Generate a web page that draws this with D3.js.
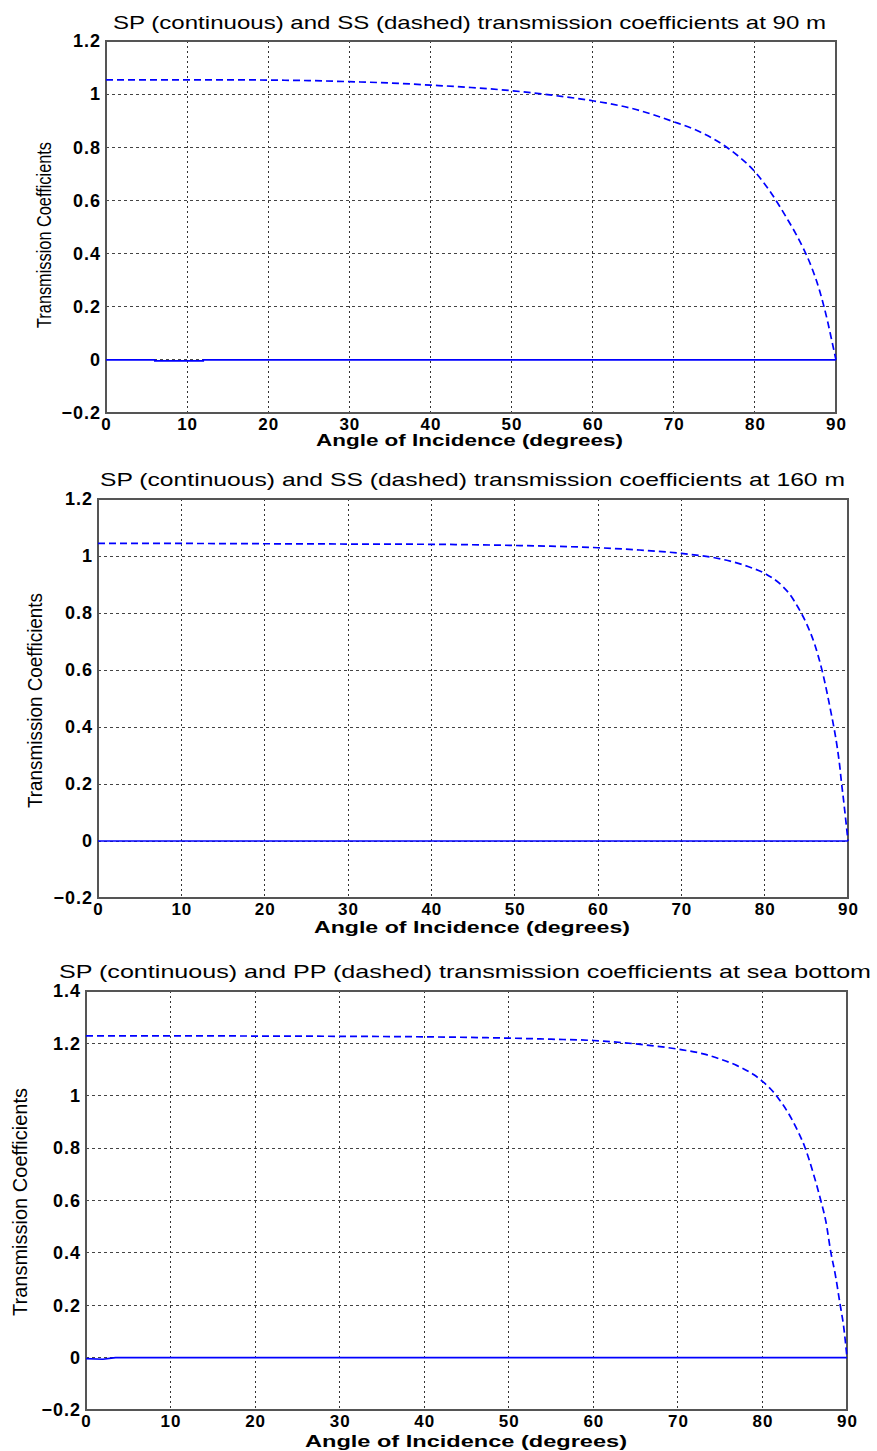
<!DOCTYPE html>
<html>
<head>
<meta charset="utf-8">
<script src="https://cdn.jsdelivr.net/npm/d3@7"></script>
<style>
  html, body { margin: 0; padding: 0; background: #fff; }
  svg { display: block; }
</style>
</head>
<body>
<svg id="chart" width="877" height="1451"></svg>
<script>
// ---------- DATA ----------
const titles = [
  "SP (continuous) and SS (dashed) transmission coefficients at 90 m",
  "SP (continuous) and SS (dashed) transmission coefficients at 160 m",
  "SP (continuous) and PP (dashed) transmission coefficients at sea bottom"
];
const xLabel = "Angle of Incidence (degrees)";
const yLabel = "Transmission Coefficients";
const xTicks = [0, 10, 20, 30, 40, 50, 60, 70, 80, 90];
const yTicks1 = [-0.2, 0, 0.2, 0.4, 0.6, 0.8, 1, 1.2];
const yTicks2 = [-0.2, 0, 0.2, 0.4, 0.6, 0.8, 1, 1.2];
const yTicks3 = [-0.2, 0, 0.2, 0.4, 0.6, 0.8, 1, 1.2, 1.4];

// Panel 1: 90 m
const ssAngle90 = [0, 5, 10, 15, 20, 25, 30, 35, 40, 45, 50, 55, 60, 65, 70, 72.5, 75, 77.5, 80, 82, 84, 85, 86, 87, 88, 89, 89.5, 90];
const ss90      = [1.054, 1.054, 1.054, 1.054, 1.053, 1.051, 1.047, 1.042, 1.034, 1.025, 1.013, 0.996, 0.975, 0.945, 0.896, 0.868, 0.830, 0.778, 0.708, 0.628, 0.530, 0.477, 0.418, 0.348, 0.258, 0.140, 0.070, 0];
const spAngle90 = [0, 6, 6.01, 12, 12.01, 90];
const sp90      = [0, 0, -0.004, -0.004, 0, 0];

// Panel 2: 160 m
const ssAngle160 = [0, 10, 20, 30, 40, 50, 60, 65, 70, 75, 78, 80, 82, 83, 84, 85, 86, 87, 88, 88.3, 88.7, 89, 89.2, 89.5, 89.8, 90];
const ss160      = [1.044, 1.044, 1.043, 1.042, 1.041, 1.037, 1.029, 1.021, 1.009, 0.988, 0.963, 0.939, 0.898, 0.866, 0.820, 0.764, 0.690, 0.585, 0.445, 0.400, 0.330, 0.265, 0.210, 0.135, 0.055, 0];
const spAngle160 = [0, 90];
const sp160      = [0, 0];

// Panel 3: sea bottom
const ppAngleSea = [0, 10, 20, 30, 40, 50, 55, 60, 65, 70, 73, 75, 77, 79, 80, 81, 82, 83, 84, 85, 86, 86.9, 87.5, 88.1, 88.6, 89.2, 89.6, 90];
const ppSea      = [1.229, 1.229, 1.228, 1.227, 1.225, 1.220, 1.216, 1.211, 1.198, 1.178, 1.160, 1.140, 1.115, 1.080, 1.055, 1.025, 0.985, 0.937, 0.877, 0.805, 0.705, 0.600, 0.520, 0.400, 0.320, 0.200, 0.120, 0];
const spAngleSea = [0, 2, 3, 3.5, 90];
const spSea      = [-0.004, -0.006, -0.002, 0, 0];

// ---------- LAYOUT ----------
const panels = [
  { title: titles[0], yDomain: [-0.2, 1.2], yTicks: yTicks1,
    dashX: ssAngle90, dashY: ss90, solidX: spAngle90, solidY: sp90,
    box: { l: 106, r: 836, t: 41, b: 413 },
    titleBox: { x0: 113, x1: 826, y: 29 },
    xlab: { x0: 316, x1: 623, y: 446 },
    ylab: { x: 51, y0: 142, y1: 328 } },
  { title: titles[1], yDomain: [-0.2, 1.2], yTicks: yTicks2,
    dashX: ssAngle160, dashY: ss160, solidX: spAngle160, solidY: sp160,
    box: { l: 98, r: 848, t: 499, b: 898 },
    titleBox: { x0: 100, x1: 845, y: 486 },
    xlab: { x0: 314, x1: 630, y: 933 },
    ylab: { x: 42, y0: 593, y1: 808 } },
  { title: titles[2], yDomain: [-0.2, 1.4], yTicks: yTicks3,
    dashX: ppAngleSea, dashY: ppSea, solidX: spAngleSea, solidY: spSea,
    box: { l: 86, r: 847, t: 991, b: 1410 },
    titleBox: { x0: 59, x1: 871, y: 978 },
    xlab: { x0: 305, x1: 627, y: 1447 },
    ylab: { x: 27, y0: 1088, y1: 1316 } }
];

const svg = d3.select("#chart");
const blue = "#0000ff";
const baseFont = "'Liberation Sans', Arial, Helvetica, sans-serif";

panels.forEach(p => {
  const b = p.box;
  const x = d3.scaleLinear().domain([0, 90]).range([b.l, b.r]);
  const y = d3.scaleLinear().domain(p.yDomain).range([b.b, b.t]);
  const g = svg.append("g");

  // grid
  g.append("g").selectAll("line")
    .data(xTicks.filter(t => t > 0 && t < 90)).enter().append("line")
    .attr("x1", d => x(d)).attr("x2", d => x(d))
    .attr("y1", b.t).attr("y2", b.b)
    .attr("stroke", "#333").attr("stroke-width", 1)
    .attr("stroke-dasharray", "2,3").attr("shape-rendering", "crispEdges");
  g.append("g").selectAll("line")
    .data(p.yTicks.filter(t => t > p.yDomain[0] && t < p.yDomain[1])).enter().append("line")
    .attr("x1", b.l).attr("x2", b.r)
    .attr("y1", d => y(d)).attr("y2", d => y(d))
    .attr("stroke", "#444").attr("stroke-width", 1)
    .attr("stroke-dasharray", "3,3").attr("shape-rendering", "crispEdges");

  // axes
  const xAxis = d3.axisBottom(x).tickValues(xTicks).tickSize(0).tickPadding(5)
    .tickFormat(d3.format("d"));
  const gx = g.append("g").attr("transform", `translate(0,${b.b})`).call(xAxis);
  gx.select(".domain").remove();
  gx.selectAll("text")
    .attr("font-family", baseFont).attr("font-size", 17).attr("font-weight", "bold")
    .attr("letter-spacing", "1px").attr("fill", "#000")
    .attr("dy", "0.7em");

  const yAxis = d3.axisLeft(y).tickValues(p.yTicks).tickSize(0).tickPadding(5)
    .tickFormat(d => d === 0 ? "0" : (d === 1 ? "1" : d3.format(".1f")(d).replace("-", "\u2212")));
  const gy = g.append("g").attr("transform", `translate(${b.l},0)`).call(yAxis);
  gy.select(".domain").remove();
  gy.selectAll("text")
    .attr("font-family", baseFont).attr("font-size", 18).attr("font-weight", "bold")
    .attr("letter-spacing", "1px").attr("fill", "#000");

  // box
  g.append("rect")
    .attr("x", b.l).attr("y", b.t).attr("width", b.r - b.l).attr("height", b.b - b.t)
    .attr("fill", "none").attr("stroke", "#555").attr("stroke-width", 1.2)
    .attr("shape-rendering", "crispEdges");

  // lines
  const solidData = p.solidX.map((a, i) => [a, p.solidY[i]]);
  const dashData = p.dashX.map((a, i) => [a, p.dashY[i]]);
  g.append("path").datum(solidData)
    .attr("d", d3.line().x(d => x(d[0])).y(d => y(d[1])))
    .attr("fill", "none").attr("stroke", blue).attr("stroke-width", 1.6);
  g.append("path").datum(dashData)
    .attr("d", d3.line().curve(d3.curveMonotoneX).x(d => x(d[0])).y(d => y(d[1])))
    .attr("fill", "none").attr("stroke", blue).attr("stroke-width", 1.7)
    .attr("stroke-dasharray", "7,4");

  // title
  g.append("text")
    .attr("x", p.titleBox.x0).attr("y", p.titleBox.y)
    .attr("textLength", p.titleBox.x1 - p.titleBox.x0).attr("lengthAdjust", "spacingAndGlyphs")
    .attr("font-family", baseFont).attr("font-size", 19)
    .attr("fill", "#000").text(p.title);

  // x label
  g.append("text")
    .attr("x", p.xlab.x0).attr("y", p.xlab.y)
    .attr("textLength", p.xlab.x1 - p.xlab.x0).attr("lengthAdjust", "spacingAndGlyphs")
    .attr("font-family", baseFont).attr("font-size", 16).attr("font-weight", "bold")
    .attr("fill", "#000").text(xLabel);

  // y label (rotated)
  const yl = p.ylab;
  g.append("text")
    .attr("transform", `translate(${yl.x},${yl.y1}) rotate(-90)`)
    .attr("x", 0).attr("y", 0)
    .attr("textLength", yl.y1 - yl.y0).attr("lengthAdjust", "spacingAndGlyphs")
    .attr("font-family", "'Liberation Sans Narrow', 'Liberation Sans', Arial, sans-serif")
    .attr("font-size", 20).attr("fill", "#000").text(yLabel);
});
</script>
</body>
</html>
